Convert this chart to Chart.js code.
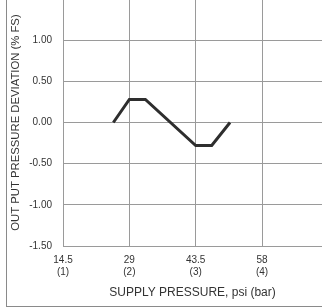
<!DOCTYPE html>
<html>
<head>
<meta charset="utf-8">
<script src="https://cdn.jsdelivr.net/npm/chart.js@4.4.1/dist/chart.umd.min.js"></script>
<style>
  html, body { margin: 0; padding: 0; background: #fff; overflow: hidden; }
  #wrap { position: relative; width: 322px; height: 307px; overflow: hidden; }
  #canvas { position: absolute; left: 0; top: -1px; }
  #frame { position: absolute; left: 6px; top: -2px; width: 320px; height: 308px;
           border-left: 1px solid #8a8a8a; border-bottom: 1px solid #8a8a8a; pointer-events: none; }
</style>
</head>
<body>
<div id="wrap">
  <canvas id="canvas" width="322" height="307"></canvas>
  <div id="frame"></div>
</div>
<script>
// supply pressure (psi) vs output deviation (% FS)
var supplyPsi = [25.5, 29, 32.5, 43.5, 47, 51]
var deviation = [0, 0.28, 0.28, -0.28, -0.28, 0]

var xTicks = [14.5, 29, 43.5, 58]
var xBarLabels = ["(1)", "(2)", "(3)", "(4)"]
var yTicks = [-1.5, -1, -0.5, 0, 0.5, 1, 1.5]

var textColor = "#333"
var gridColor = "#9a9a9a"
var font = {family: "'Liberation Sans', Arial, sans-serif", size: 10}

var chart = new Chart(document.getElementById("canvas"), {
  type: "scatter",
  data: {
    datasets: [{
      data: supplyPsi.map(function (x, i) { return {x: x, y: deviation[i]} }),
      showLine: true,
      borderColor: "#2e2e2e",
      borderWidth: 3,
      pointRadius: 0,
      fill: false,
      tension: 0
    }]
  },
  options: {
    responsive: false,
    animation: false,
    layout: {padding: 0},
    plugins: {legend: {display: false}, tooltip: {enabled: false}},
    scales: {
      x: {
        type: "linear",
        min: 14.5,
        max: 71.1,
        afterBuildTicks: function (axis) {
          axis.ticks = xTicks.map(function (v) { return {value: v} })
        },
        afterFit: function (axis) { axis.height = 60 },
        grid: {color: gridColor, drawTicks: false},
        border: {color: gridColor},
        ticks: {
          color: textColor, font: font, padding: 8, maxRotation: 0, autoSkip: false,
          callback: function (v) {
            var i = xTicks.indexOf(v)
            return [String(v), xBarLabels[i]]
          }
        },
        title: {
          display: true, text: "SUPPLY PRESSURE, psi (bar)",
          color: textColor, font: {family: font.family, size: 12},
          padding: {top: 0, bottom: 6}
        }
      },
      y: {
        min: -1.5,
        max: 1.5,
        afterBuildTicks: function (axis) {
          axis.ticks = yTicks.map(function (v) { return {value: v} })
        },
        afterFit: function (axis) {
          axis.width = 63
          axis.paddingTop = 0
        },
        grid: {color: gridColor, drawTicks: false},
        border: {color: gridColor},
        ticks: {
          color: textColor, font: font, padding: 11, autoSkip: false,
          callback: function (v) { return v >= 1.5 ? "" : v.toFixed(2) }
        },
        title: {
          display: true, text: "OUT PUT PRESSURE DEVIATION (% FS)",
          color: textColor, font: {family: font.family, size: 11.3},
          padding: {top: 9, bottom: 0}
        }
      }
    }
  }
})
</script>
</body>
</html>
